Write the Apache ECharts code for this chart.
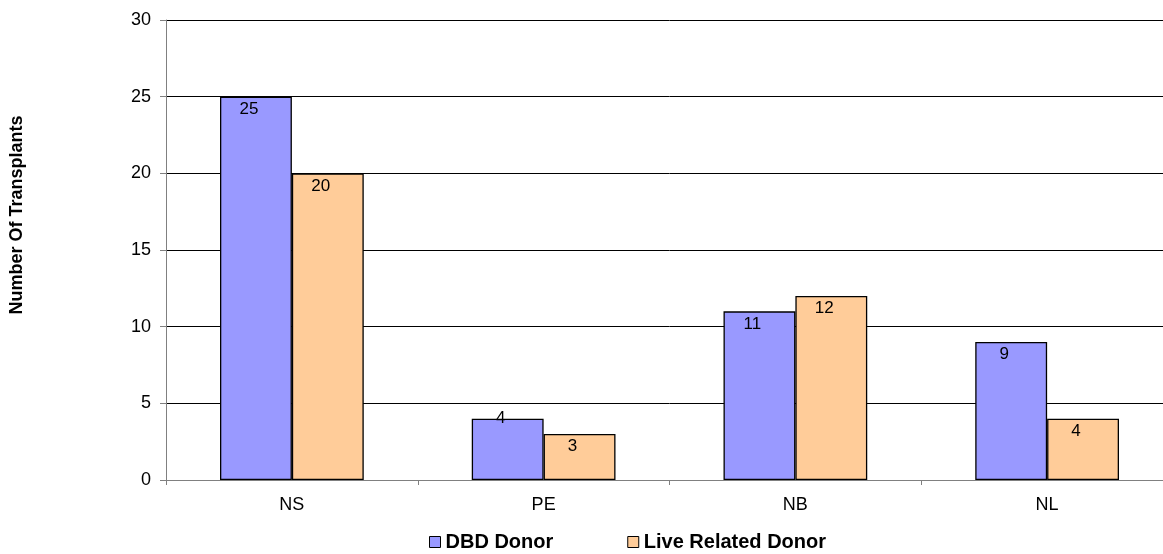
<!DOCTYPE html>
<html><head><meta charset="utf-8">
<script src="https://cdn.jsdelivr.net/npm/echarts@6/dist/echarts.min.js"></script>
<style>html,body{margin:0;padding:0;background:#fff;overflow:hidden;width:1163px;height:554px}#c{width:1173px;height:554px}</style>
</head><body><div id="c"></div>
<script>
const categories = ['NS', 'PE', 'NB', 'NL'];
const dbdDonor = [25, 4, 11, 9];
const liveRelatedDonor = [20, 3, 12, 4];
const yTicks = [0, 5, 10, 15, 20, 25, 30];

const font = 'Liberation Sans, Arial, sans-serif';
function mk(vals) {
  return vals.map(v => v === 4 ? {value: v, label: {distance: -9}} : v);
}
const labelCfg = {show: true, position: 'insideTop', distance: 4, offset: [-7, 0],
  fontFamily: font, fontSize: 17, color: '#000'};
const chart = echarts.init(document.getElementById('c'));
chart.setOption({
  animation: false,
  grid: {left: 166, top: 20, bottom: 74, right: 0, containLabel: false},
  legend: {
    top: 527, left: 424, itemWidth: 11, itemHeight: 11, itemGap: 74,
    icon: 'rect',
    textStyle: {fontFamily: font, fontSize: 20, fontWeight: 'bold', color: '#000'},
    data: [{name: 'DBD Donor', itemStyle: {borderColor: '#000', borderWidth: 1}},
           {name: 'Live Related Donor', itemStyle: {borderColor: '#000', borderWidth: 1}}]
  },
  xAxis: {
    type: 'category', data: categories,
    axisLine: {lineStyle: {color: '#808080'}},
    axisTick: {show: true, length: 5, lineStyle: {color: '#808080'}},
    axisLabel: {fontFamily: font, fontSize: 18, color: '#000', margin: 16}
  },
  yAxis: {
    type: 'value', min: yTicks[0], max: yTicks[yTicks.length - 1], interval: 5,
    name: 'Number Of Transplants', nameLocation: 'middle', nameGap: 140,
    nameTextStyle: {fontFamily: font, fontSize: 18, fontWeight: 'bold', color: '#000', padding: [0, 0, 0, 70]},
    axisLine: {show: true, lineStyle: {color: '#808080'}},
    axisTick: {show: true, length: 6, lineStyle: {color: '#808080'}},
    axisLabel: {fontFamily: font, fontSize: 18, color: '#000', margin: 15},
    splitLine: {lineStyle: {color: '#000', width: 1}}
  },
  series: [
    {name: 'DBD Donor', type: 'bar', data: mk(dbdDonor), barGap: '0%', barCategoryGap: '42.9%',
     itemStyle: {color: '#9999FF', borderColor: '#000', borderWidth: 1.3}, label: labelCfg},
    {name: 'Live Related Donor', type: 'bar', data: liveRelatedDonor, barGap: '0%', barCategoryGap: '42.9%',
     itemStyle: {color: '#FFCC99', borderColor: '#000', borderWidth: 1.3}, label: labelCfg}
  ]
});
</script></body></html>
